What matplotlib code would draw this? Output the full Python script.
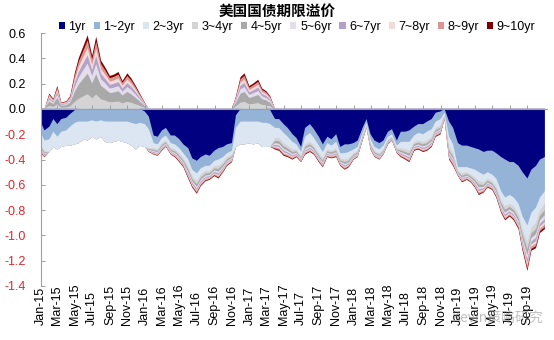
import numpy as np
import pandas as pd
import matplotlib
matplotlib.use("Agg")
import matplotlib.pyplot as plt
from matplotlib.patches import Patch

plt.rcParams['font.family'] = ['Liberation Sans', 'Noto Sans CJK SC', 'DejaVu Sans']

# semi-monthly observation dates
dates = pd.date_range("2015-01-01", "2019-11-01", freq="SMS")

labels = ["1yr", "1~2yr", "2~3yr", "3~4yr", "4~5yr",
          "5~6yr", "6~7yr", "7~8yr", "8~9yr", "9~10yr"]
colors = ["#000080", "#95B3D7", "#DCE6F2", "#D4D4D4", "#A9A9A9",
          "#E4DEEC", "#B3A2C7", "#F2DCDB", "#D99694", "#800000"]

tp_1yr = [
    -0.10, -0.17, -0.14, -0.08, -0.12, -0.08, -0.07, -0.04, -0.01, 0, 0, 0, 0, 0, 0, 0, 0, 0, 0, 0, 0, 0, 0, 0,
    -0.02, -0.06, -0.21, -0.22, -0.17, -0.15, -0.21, -0.21, -0.24, -0.28, -0.31, -0.39, -0.41, -0.38, -0.36, -0.37, -0.33, -0.31, -0.30, -0.28, -0.27, -0.05, 0, 0,
    0, 0, 0, 0, 0, -0.01, -0.08, -0.08, -0.12, -0.15, -0.20, -0.23, -0.30, -0.15, -0.12, -0.16, -0.22, -0.28, -0.22, -0.24, -0.20, -0.30, -0.28, -0.28,
    -0.27, -0.25, -0.15, -0.08, -0.20, -0.25, -0.27, -0.25, -0.18, -0.16, -0.25, -0.18, -0.18, -0.17, -0.14, -0.12, -0.12, -0.10, -0.08, -0.03, -0.02, 0, -0.10, -0.15,
    -0.27, -0.29, -0.29, -0.30, -0.31, -0.32, -0.34, -0.33, -0.33, -0.35, -0.38, -0.40, -0.42, -0.42, -0.45, -0.50, -0.55, -0.48, -0.45, -0.40, -0.38]

tp_1_2 = [
    -0.08, -0.08, -0.10, -0.10, -0.10, -0.10, -0.10, -0.10, -0.10, -0.10, -0.10, -0.10, -0.09, -0.10, -0.09, -0.10, -0.10, -0.10, -0.10, -0.10, -0.10, -0.11, -0.12, -0.11,
    -0.10, -0.10, -0.06, -0.06, -0.06, -0.06, -0.06, -0.07, -0.07, -0.07, -0.09, -0.09, -0.10, -0.09, -0.09, -0.08, -0.08, -0.09, -0.08, -0.07, -0.06, -0.10, -0.10, -0.10,
    -0.10, -0.10, -0.10, -0.11, -0.11, -0.11, -0.07, -0.07, -0.07, -0.07, -0.06, -0.05, -0.04, -0.07, -0.07, -0.07, -0.07, -0.06, -0.05, -0.05, -0.06, -0.05, -0.07, -0.06,
    -0.05, -0.05, -0.04, -0.03, -0.04, -0.05, -0.05, -0.04, -0.04, -0.04, -0.04, -0.08, -0.08, -0.09, -0.07, -0.07, -0.08, -0.08, -0.08, -0.07, -0.06, -0.03, -0.12, -0.13,
    -0.19, -0.17, -0.17, -0.17, -0.17, -0.18, -0.18, -0.17, -0.19, -0.20, -0.27, -0.30, -0.26, -0.28, -0.30, -0.35, -0.37, -0.34, -0.33, -0.30, -0.27]

tp_2_3 = [
    -0.10, -0.08, -0.10, -0.12, -0.10, -0.12, -0.12, -0.15, -0.17, -0.17, -0.14, -0.15, -0.13, -0.14, -0.13, -0.16, -0.17, -0.16, -0.15, -0.16, -0.17, -0.18, -0.20, -0.18,
    -0.18, -0.15, -0.04, -0.04, -0.04, -0.04, -0.04, -0.04, -0.04, -0.04, -0.05, -0.05, -0.06, -0.05, -0.04, -0.04, -0.04, -0.05, -0.04, -0.03, -0.03, -0.15, -0.18, -0.18,
    -0.17, -0.18, -0.17, -0.19, -0.19, -0.18, -0.08, -0.08, -0.08, -0.07, -0.06, -0.04, -0.03, -0.06, -0.07, -0.06, -0.06, -0.05, -0.05, -0.04, -0.05, -0.04, -0.05, -0.05,
    -0.03, -0.03, -0.02, -0.02, -0.03, -0.03, -0.03, -0.03, -0.02, -0.02, -0.02, -0.05, -0.06, -0.07, -0.05, -0.06, -0.06, -0.07, -0.06, -0.05, -0.05, -0.02, -0.08, -0.07,
    -0.03, -0.05, -0.04, -0.05, -0.06, -0.07, -0.06, -0.05, -0.05, -0.06, -0.07, -0.07, -0.07, -0.07, -0.08, -0.10, -0.13, -0.12, -0.12, -0.10, -0.10]

tp_3_4 = [
    -.018, -.013, .024, .016, .036, .01, .012, .02, .056, .08, .1, .116, .084, .114, .076, .066, .052, .054, .058, .044, .056, .048, .036, .024,
    .01, -.008, -.013, -.013, -.015, -.013, -.013, -.015, -.018, -.018, -.025, -.023, -.025, -.023, -.02, -.018, -.02, -.025, -.02, -.018, -.015, .02, .05, .056,
    .036, .04, .046, .032, .028, .02, -.023, -.025, -.025, -.023, -.02, -.015, -.013, -.02, -.02, -.018, -.018, -.018, -.015, -.015, -.018, -.015, -.02, -.018,
    -.013, -.013, -.01, -.005, -.013, -.013, -.013, -.01, -.01, -.008, -.01, -.018, -.02, -.023, -.018, -.018, -.02, -.02, -.02, -.018, -.018, -.008, -.025, -.025,
    -.01, -.018, -.015, -.015, -.02, -.028, -.02, -.018, -.018, -.023, -.025, -.028, -.025, -.028, -.03, -.043, -.058, -.045, -.05, -.045, -.05]

tp_4_5 = [
    -.014, -.01, .034, .022, .05, .014, .017, .028, .078, .112, .14, .162, .118, .16, .106, .092, .073, .076, .081, .062, .078, .067, .05, .034,
    .014, -.006, -.01, -.01, -.012, -.01, -.01, -.012, -.014, -.014, -.02, -.018, -.02, -.018, -.016, -.014, -.016, -.02, -.016, -.014, -.012, .028, .07, .078,
    .05, .056, .064, .045, .039, .028, -.018, -.02, -.02, -.018, -.016, -.012, -.01, -.016, -.016, -.014, -.014, -.014, -.012, -.012, -.014, -.012, -.016, -.014,
    -.01, -.01, -.008, -.004, -.01, -.01, -.01, -.008, -.008, -.006, -.008, -.014, -.016, -.018, -.014, -.014, -.016, -.016, -.016, -.014, -.014, -.006, -.02, -.02,
    -.008, -.014, -.012, -.012, -.016, -.022, -.016, -.014, -.014, -.018, -.02, -.022, -.02, -.022, -.024, -.034, -.046, -.036, -.04, -.036, -.04]

tp_5_6 = [
    -.01, -.008, .017, .011, .025, .007, .008, .014, .039, .056, .07, .081, .059, .08, .053, .046, .036, .038, .041, .031, .039, .034, .025, .017,
    .007, -.005, -.008, -.008, -.009, -.008, -.008, -.009, -.01, -.01, -.015, -.013, -.015, -.013, -.012, -.01, -.012, -.015, -.012, -.01, -.009, .014, .035, .039,
    .025, .028, .032, .022, .02, .014, -.013, -.015, -.015, -.013, -.012, -.009, -.008, -.012, -.012, -.01, -.01, -.01, -.009, -.009, -.01, -.009, -.012, -.01,
    -.008, -.008, -.006, -.003, -.008, -.008, -.008, -.006, -.006, -.005, -.006, -.01, -.012, -.013, -.01, -.01, -.012, -.012, -.012, -.01, -.01, -.005, -.015, -.015,
    -.006, -.01, -.009, -.009, -.012, -.016, -.012, -.01, -.01, -.013, -.015, -.016, -.015, -.016, -.018, -.025, -.034, -.027, -.03, -.027, -.03]

tp_6_7 = [
    -.008, -.006, .013, .009, .02, .006, .007, .011, .031, .044, .055, .064, .046, .063, .042, .036, .029, .03, .032, .024, .031, .026, .02, .013,
    .006, -.003, -.006, -.006, -.007, -.006, -.006, -.007, -.008, -.008, -.012, -.011, -.012, -.011, -.01, -.008, -.01, -.012, -.01, -.008, -.007, .011, .028, .031,
    .02, .022, .025, .018, .015, .011, -.011, -.012, -.012, -.011, -.01, -.007, -.006, -.01, -.01, -.008, -.008, -.008, -.007, -.007, -.008, -.007, -.01, -.008,
    -.006, -.006, -.005, -.002, -.006, -.006, -.006, -.005, -.005, -.003, -.005, -.008, -.01, -.011, -.008, -.008, -.01, -.01, -.01, -.008, -.008, -.003, -.012, -.012,
    -.005, -.008, -.007, -.007, -.01, -.013, -.01, -.008, -.008, -.011, -.012, -.013, -.012, -.013, -.014, -.02, -.028, -.022, -.024, -.022, -.024]

tp_7_8 = [
    -.007, -.005, .012, .008, .018, .005, .006, .01, .028, .04, .05, .058, .042, .057, .038, .033, .026, .027, .029, .022, .028, .024, .018, .012,
    .005, -.003, -.005, -.005, -.006, -.005, -.005, -.006, -.007, -.007, -.01, -.009, -.01, -.009, -.008, -.007, -.008, -.01, -.008, -.007, -.006, .01, .025, .028,
    .018, .02, .023, .016, .014, .01, -.009, -.01, -.01, -.009, -.008, -.006, -.005, -.008, -.008, -.007, -.007, -.007, -.006, -.006, -.007, -.006, -.008, -.007,
    -.005, -.005, -.004, -.002, -.005, -.005, -.005, -.004, -.004, -.003, -.004, -.007, -.008, -.009, -.007, -.007, -.008, -.008, -.008, -.007, -.007, -.003, -.01, -.01,
    -.004, -.007, -.006, -.006, -.008, -.011, -.008, -.007, -.007, -.009, -.01, -.011, -.01, -.011, -.012, -.017, -.023, -.018, -.02, -.018, -.02]

tp_8_9 = [
    -.008, -.006, .013, .008, .02, .005, .006, .011, .03, .042, .05, .06, .043, .058, .04, .034, .027, .028, .03, .023, .029, .025, .019, .013,
    .005, -.003, -.006, -.006, -.006, -.005, -.006, -.007, -.008, -.008, -.011, -.01, -.011, -.01, -.009, -.008, -.009, -.011, -.009, -.008, -.007, .01, .026, .029,
    .019, .021, .024, .017, .015, .011, -.01, -.011, -.011, -.01, -.009, -.007, -.006, -.009, -.009, -.008, -.008, -.008, -.007, -.007, -.008, -.007, -.009, -.008,
    -.006, -.006, -.005, -.003, -.006, -.006, -.006, -.005, -.005, -.004, -.005, -.008, -.009, -.01, -.008, -.008, -.009, -.009, -.009, -.008, -.008, -.004, -.011, -.011,
    -.005, -.008, -.007, -.007, -.009, -.012, -.009, -.008, -.008, -.01, -.011, -.012, -.011, -.012, -.013, -.018, -.024, -.019, -.021, -.019, -.021]

tp_9_10 = [
    -.006, -.003, .008, .006, .013, .003, .004, .007, .02, .028, .035, .041, .029, .039, .027, .024, .018, .018, .021, .015, .02, .017, .013, .008,
    .003, -.002, -.003, -.003, -.005, -.003, -.003, -.005, -.006, -.006, -.008, -.007, -.008, -.007, -.006, -.006, -.006, -.008, -.006, -.006, -.005, .007, .017, .02,
    .013, .014, .017, .011, .01, .007, -.007, -.008, -.008, -.007, -.006, -.005, -.003, -.006, -.006, -.006, -.006, -.006, -.005, -.005, -.006, -.005, -.006, -.006,
    -.003, -.003, -.003, -.002, -.003, -.003, -.003, -.003, -.003, -.002, -.003, -.006, -.006, -.007, -.006, -.006, -.006, -.006, -.006, -.006, -.006, -.002, -.008, -.008,
    -.003, -.006, -.005, -.005, -.006, -.009, -.006, -.006, -.006, -.007, -.008, -.009, -.008, -.009, -.01, -.014, -.018, -.014, -.016, -.014, -.016]

series = [tp_1yr, tp_1_2, tp_2_3, tp_3_4, tp_4_5, tp_5_6, tp_6_7, tp_7_8, tp_8_9, tp_9_10]

y_ticks = [-1.4, -1.2, -1.0, -0.8, -0.6, -0.4, -0.2, 0.0, 0.2, 0.4, 0.6]
x_ticks = pd.date_range("2015-01-01", "2019-09-01", freq="2MS")

axis_gray = "#A0A0A0"

fig = plt.figure(figsize=(5.54, 3.40), dpi=100)
ax = fig.add_axes([40.5 / 554, 54 / 340, 507.5 / 554, 253 / 340])

# stacked columns: positive values pile upward from zero, negative ones downward.
# Each level is painted from zero to its running total, outermost first, so
# inner series overlay the outer ones.
values = np.array(series, dtype=float)
pos_cum = np.cumsum(np.clip(values, 0, None), axis=0)
neg_cum = np.cumsum(np.clip(values, None, 0), axis=0)
zero = np.zeros(len(dates))
for k in range(len(series) - 1, -1, -1):
    ax.fill_between(dates, zero, pos_cum[k], facecolor=colors[k], edgecolor="none",
                    lw=0, zorder=2)
    ax.fill_between(dates, zero, neg_cum[k], facecolor=colors[k], edgecolor="none",
                    lw=0, zorder=2)

ax.set_xlim(pd.Timestamp("2015-01-01"), pd.Timestamp("2019-11-12"))
ax.set_ylim(-1.4, 0.6)

# category axis drawn through zero with small upward ticks
ax.axhline(0, color=axis_gray, lw=0.8, zorder=3)
ax.plot(x_ticks, np.zeros(len(x_ticks)), ls="none", marker=2, markersize=3,
        mew=0.7, color=axis_gray, zorder=3)

for side in ("top", "right", "bottom"):
    ax.spines[side].set_visible(False)
ax.spines["left"].set_color(axis_gray)
ax.spines["left"].set_linewidth(0.8)

ax.set_yticks(y_ticks)
ax.set_yticklabels([f"{t:.1f}" for t in y_ticks])
for lbl, t in zip(ax.get_yticklabels(), y_ticks):
    lbl.set_color("#E3262B" if t < 0 else "black")
ax.tick_params(axis="y", direction="in", length=3, width=0.7, color=axis_gray,
               pad=10.5, labelsize=9)

ax.set_xticks(x_ticks)
ax.set_xticklabels([d.strftime("%b-%y") for d in x_ticks], rotation=90,
                   va="bottom", fontsize=9)
ax.tick_params(axis="x", length=0, pad=28)

handles = [Patch(facecolor=c, edgecolor="none") for c in colors]
fig.legend(handles, labels, loc="center", bbox_to_anchor=(297 / 554, 1 - 27 / 340),
           ncol=10, frameon=False, fontsize=9, handlelength=0.5, handleheight=0.5,
           handletextpad=0.3, columnspacing=0.6, borderaxespad=0, borderpad=0)

fig.text(277 / 554, 1 - 11 / 340, "美国国债期限溢价", ha="center", va="center",
         fontsize=10.5, fontweight="bold", family=["Noto Sans CJK SC", "DejaVu Sans"])

fig.text(452 / 554, 1 - 318 / 340, "Kevin策略研究", ha="left", va="center",
         fontsize=10, color="#808080", alpha=0.5,
         family=["Noto Sans CJK SC", "DejaVu Sans"])

fig.savefig("out.png", dpi=100)
